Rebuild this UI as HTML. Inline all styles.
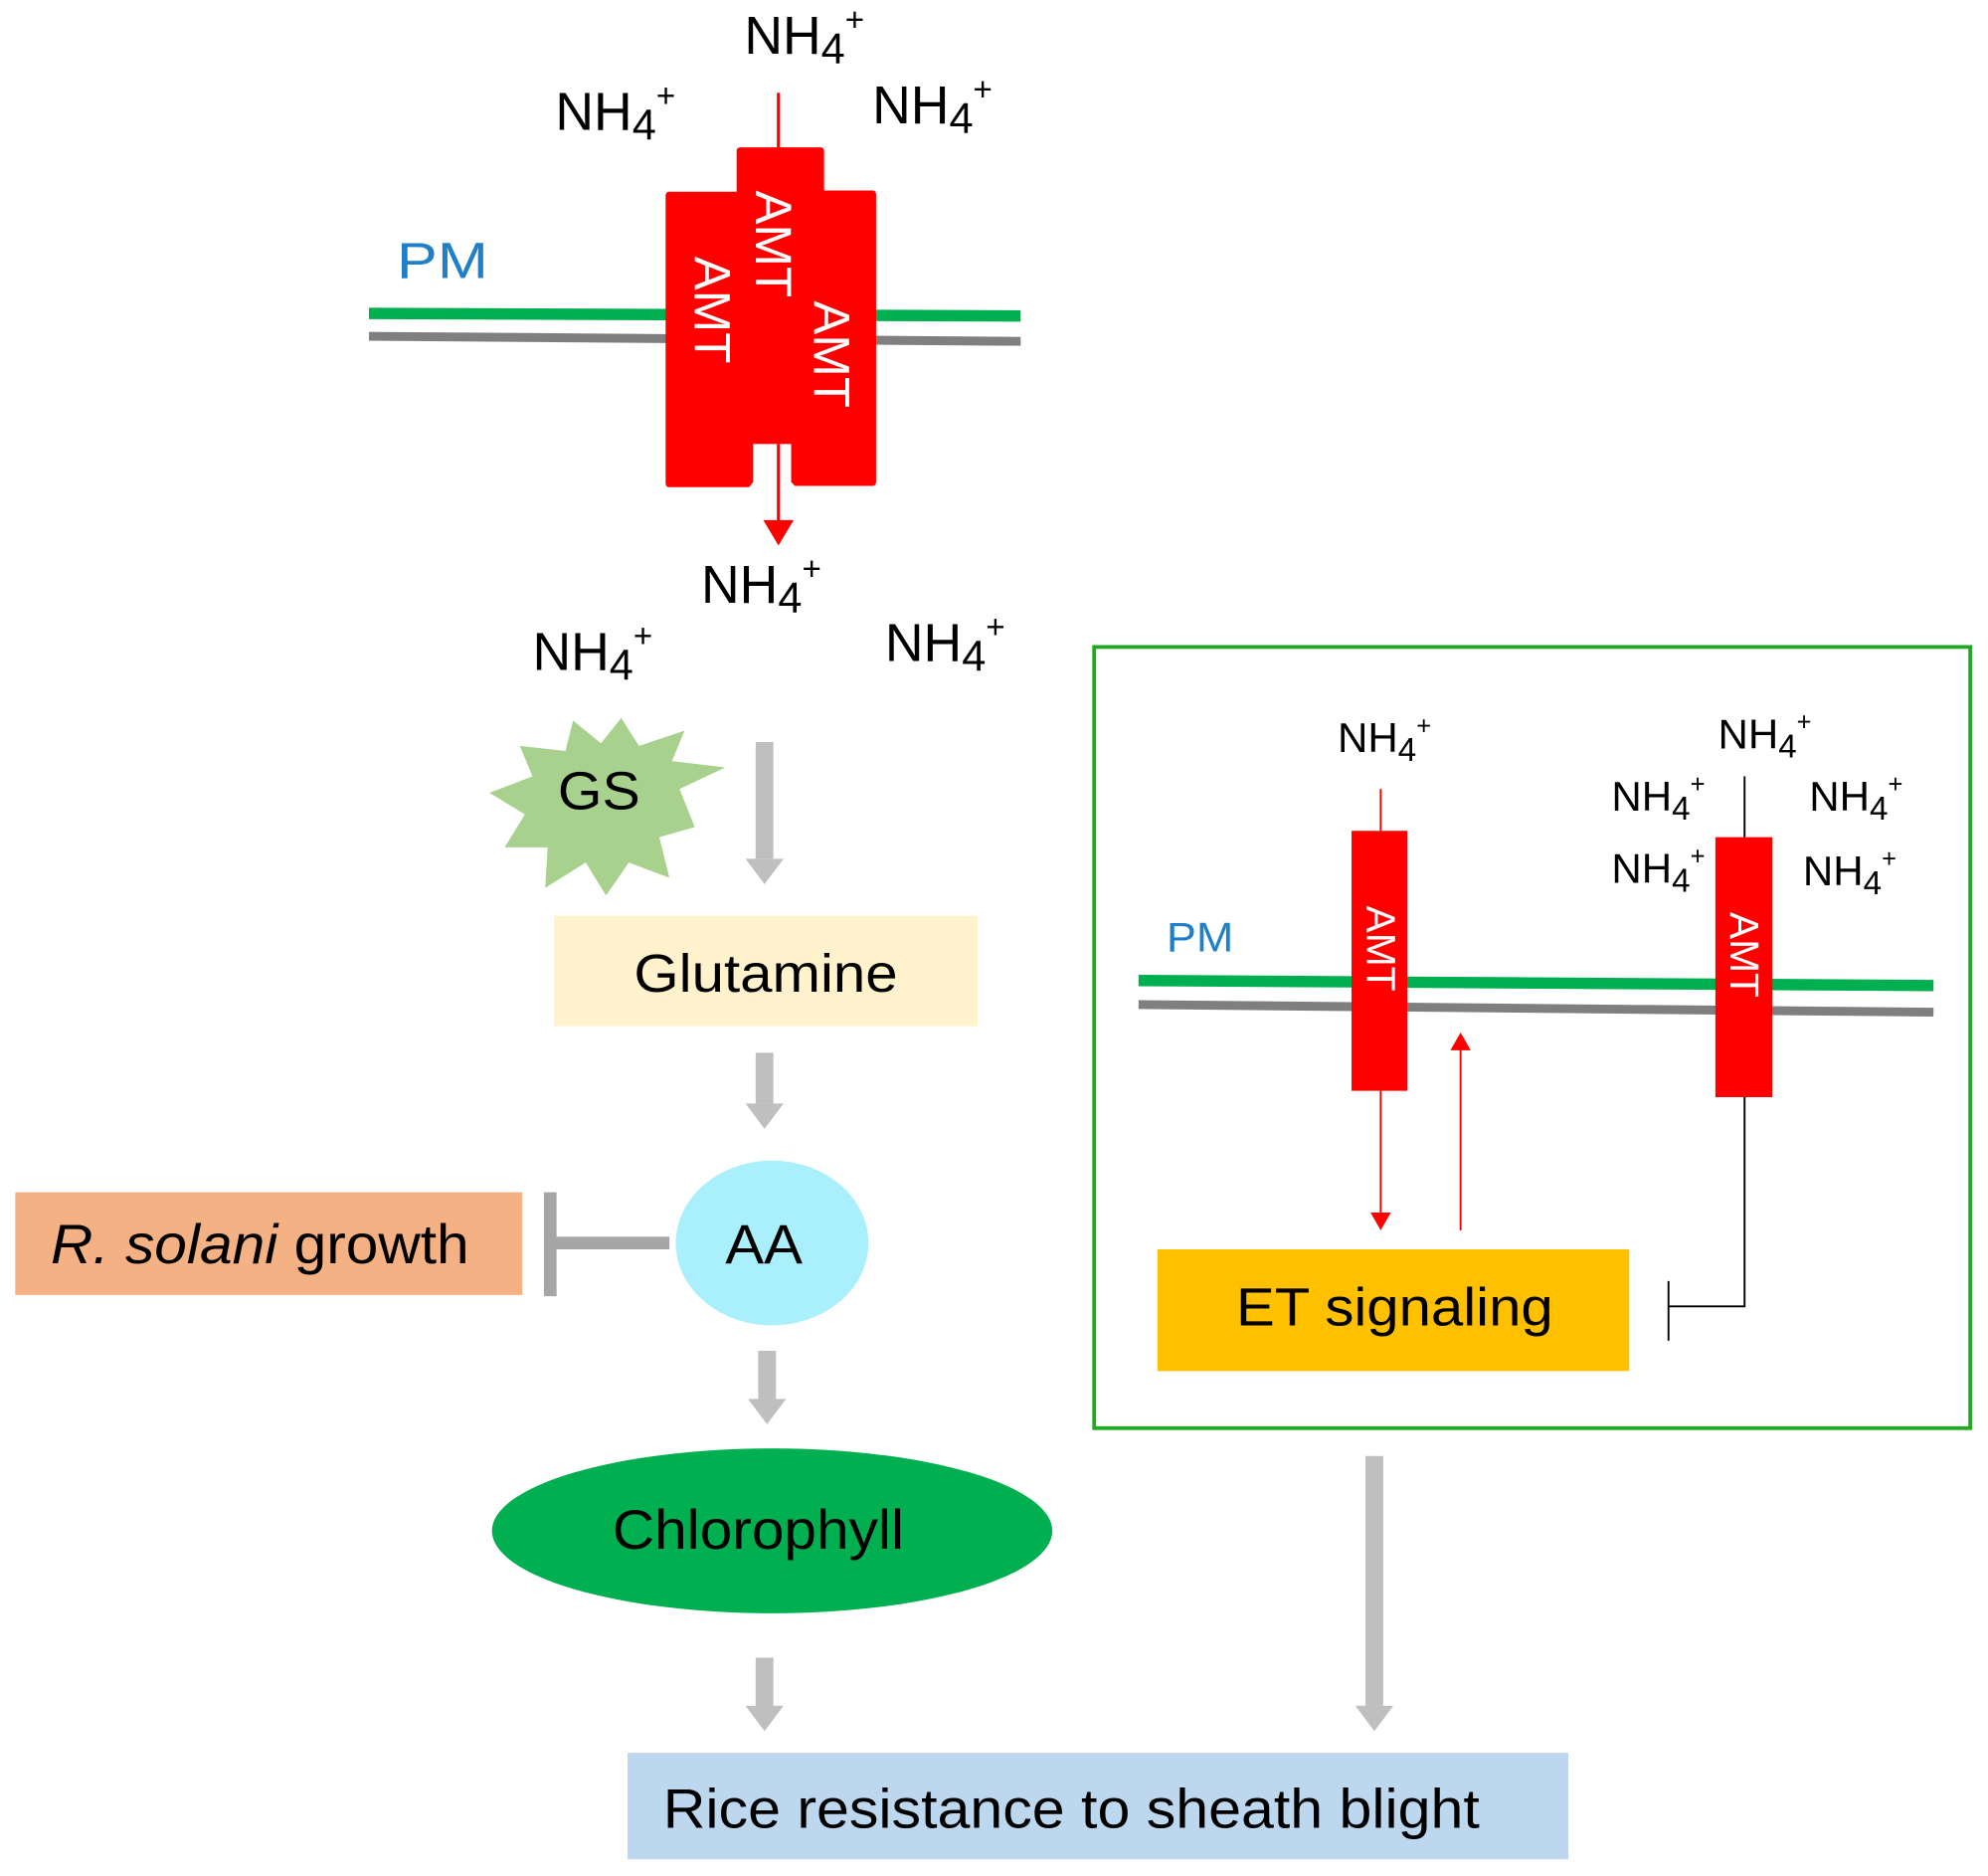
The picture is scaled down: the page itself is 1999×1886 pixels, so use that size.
<!DOCTYPE html>
<html><head><meta charset="utf-8"><style>
html,body{margin:0;padding:0;background:#fff;}
svg{display:block;}
text{font-family:"Liberation Sans",sans-serif;}
</style></head><body>
<svg width="1999" height="1886" viewBox="0 0 1568 1479" xmlns="http://www.w3.org/2000/svg">
<!-- top membrane -->
<line x1="291" y1="247" x2="805" y2="249" stroke="#00b050" stroke-width="9"/>
<line x1="291" y1="265" x2="805" y2="269" stroke="#7f7f7f" stroke-width="7"/>
<text x="313" y="219" font-size="40" fill="#1f7fc8" textLength="72" lengthAdjust="spacingAndGlyphs">PM</text>
<!-- AMT complex -->
<path d="M581,119 Q581,116 584,116 L647,116 Q650,116 650,119 L650,150 L688,150 Q691,150 691,153 L691,380 Q691,383 688,383 L627,383 L624,380 L624,350 L594,350 L594,380 L591,384 L528,384 Q525,384 525,381 L525,154 Q525,151 528,151 L581,151 Z" fill="#ff0000"/>
<line x1="614" y1="73" x2="614" y2="116" stroke="#ff0000" stroke-width="2.5"/>
<line x1="614" y1="350" x2="614" y2="412" stroke="#ff0000" stroke-width="2.5"/>
<polygon points="602,410 626,410 614,430" fill="#ff0000"/>
<text transform="translate(596,150) rotate(90)" font-size="40" fill="#fff">AMT</text>
<text transform="translate(548,202) rotate(90)" font-size="40" fill="#fff">AMT</text>
<text transform="translate(642,237) rotate(90)" font-size="40" fill="#fff">AMT</text>
<!-- NH4 labels top -->
<g font-size="42" fill="#000">
<text x="587" y="42">NH<tspan font-size="34" dy="8">4</tspan><tspan font-size="26" dy="-26">+</tspan></text>
<text x="438" y="102">NH<tspan font-size="34" dy="8">4</tspan><tspan font-size="26" dy="-26">+</tspan></text>
<text x="688" y="97">NH<tspan font-size="34" dy="8">4</tspan><tspan font-size="26" dy="-26">+</tspan></text>
<text x="553" y="475">NH<tspan font-size="34" dy="8">4</tspan><tspan font-size="26" dy="-26">+</tspan></text>
<text x="420" y="528">NH<tspan font-size="34" dy="8">4</tspan><tspan font-size="26" dy="-26">+</tspan></text>
<text x="698" y="521">NH<tspan font-size="34" dy="8">4</tspan><tspan font-size="26" dy="-26">+</tspan></text>
</g>
<!-- gray arrows -->
<g fill="#bfbfbf">
<rect x="596" y="585" width="14" height="92"/><polygon points="588,677 618,677 603,697"/>
<rect x="596" y="830" width="14" height="40"/><polygon points="588,870 618,870 603,890"/>
<rect x="598" y="1065" width="14" height="38"/><polygon points="590,1103 620,1103 605,1123"/>
<rect x="596" y="1307" width="14" height="38"/><polygon points="588,1345 618,1345 603,1365"/>
<rect x="1077" y="1148" width="14" height="197"/><polygon points="1069,1345 1099,1345 1084,1365"/>
</g>
<!-- GS star -->
<polygon fill="#a9d18e" points="572,605 536,622 548,652 520,660 528,692 496,680 478,706 462,680 430,700 432,668 398,668 414,642 386,625 420,612 410,588 446,592 452,568 474,586 490,566 504,588 540,576 530,600" />
<text x="440" y="638" font-size="42" textLength="65" lengthAdjust="spacingAndGlyphs">GS</text>
<!-- Glutamine -->
<rect x="437" y="722" width="334" height="87" fill="#fff2cc"/>
<text x="500" y="782" font-size="42" textLength="208" lengthAdjust="spacingAndGlyphs">Glutamine</text>
<!-- AA -->
<ellipse cx="609" cy="980" rx="76" ry="65" fill="#aaf0fc"/>
<text x="572" y="996" font-size="44" textLength="61" lengthAdjust="spacingAndGlyphs">AA</text>
<!-- inhibition -->
<line x1="528" y1="980" x2="436" y2="980" stroke="#a6a6a6" stroke-width="10"/>
<line x1="434" y1="940" x2="434" y2="1022" stroke="#a6a6a6" stroke-width="10"/>
<rect x="12" y="940" width="400" height="81" fill="#f4b183"/>
<text x="40" y="996" font-size="44" textLength="330" lengthAdjust="spacingAndGlyphs"><tspan font-style="italic">R. solani</tspan> growth</text>
<!-- Chlorophyll -->
<ellipse cx="609" cy="1207" rx="221" ry="65" fill="#00b050"/>
<text x="483" y="1221" font-size="44" textLength="230" lengthAdjust="spacingAndGlyphs">Chlorophyll</text>
<!-- Rice box -->
<rect x="495" y="1382" width="742" height="84" fill="#bdd7ee"/>
<text x="523" y="1441" font-size="44" textLength="644" lengthAdjust="spacingAndGlyphs">Rice resistance to sheath blight</text>
<!-- right panel -->
<rect x="863" y="510" width="691" height="616" fill="none" stroke="#22a822" stroke-width="3"/>
<line x1="898" y1="773" x2="1525" y2="777" stroke="#00b050" stroke-width="9"/>
<line x1="898" y1="792" x2="1525" y2="798" stroke="#7f7f7f" stroke-width="7"/>
<text x="920" y="750" font-size="33" fill="#1f7fc8" textLength="53" lengthAdjust="spacingAndGlyphs">PM</text>
<rect x="1066" y="655" width="44" height="205" fill="#ff0000"/>
<rect x="1353" y="660" width="45" height="205" fill="#ff0000"/>
<text transform="translate(1078,714) rotate(90)" font-size="32" fill="#fff">AMT</text>
<text transform="translate(1365,719) rotate(90)" font-size="32" fill="#fff">AMT</text>
<line x1="1089" y1="622" x2="1089" y2="655" stroke="#ff0000" stroke-width="1.5"/>
<line x1="1089" y1="860" x2="1089" y2="958" stroke="#ff0000" stroke-width="1.5"/>
<polygon points="1081,956 1097,956 1089,970" fill="#ff0000"/>
<line x1="1152" y1="970" x2="1152" y2="826" stroke="#ff0000" stroke-width="1.5"/>
<polygon points="1144,828 1160,828 1152,814" fill="#ff0000"/>
<line x1="1376" y1="612" x2="1376" y2="660" stroke="#000" stroke-width="1.5"/>
<polyline points="1376,865 1376,1030 1316,1030" fill="none" stroke="#000" stroke-width="1.5"/>
<line x1="1316" y1="1010" x2="1316" y2="1057" stroke="#000" stroke-width="1.5"/>
<rect x="913" y="985" width="372" height="96" fill="#ffc000"/>
<text x="975" y="1045" font-size="42" textLength="250" lengthAdjust="spacingAndGlyphs">ET signaling</text>
<g font-size="33" fill="#000">
<text x="1055" y="593">NH<tspan font-size="26" dy="7">4</tspan><tspan font-size="20" dy="-21">+</tspan></text>
<text x="1355" y="590">NH<tspan font-size="26" dy="7">4</tspan><tspan font-size="20" dy="-21">+</tspan></text>
<text x="1271" y="639">NH<tspan font-size="26" dy="7">4</tspan><tspan font-size="20" dy="-21">+</tspan></text>
<text x="1427" y="639">NH<tspan font-size="26" dy="7">4</tspan><tspan font-size="20" dy="-21">+</tspan></text>
<text x="1271" y="696">NH<tspan font-size="26" dy="7">4</tspan><tspan font-size="20" dy="-21">+</tspan></text>
<text x="1422" y="698">NH<tspan font-size="26" dy="7">4</tspan><tspan font-size="20" dy="-21">+</tspan></text>
</g>
</svg>
</body></html>
